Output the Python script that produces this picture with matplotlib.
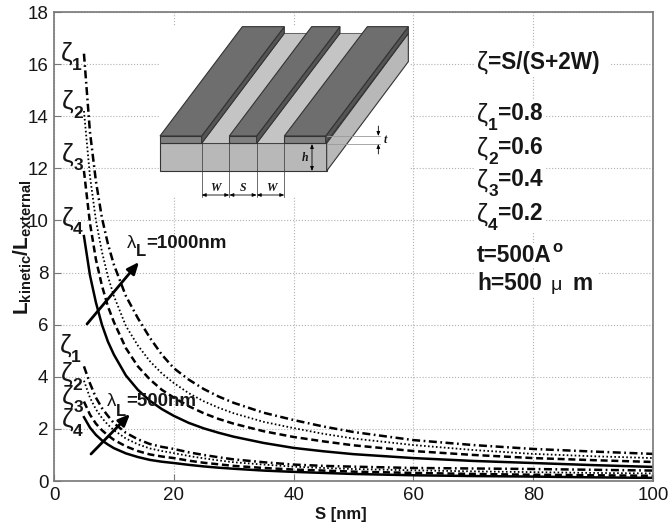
import matplotlib
matplotlib.use("Agg")
import matplotlib.pyplot as plt
from matplotlib.patches import Polygon, Rectangle

plt.rcParams['font.family'] = ['Liberation Sans', 'DejaVu Sans']
plt.rcParams['mathtext.fontset'] = 'custom'
plt.rcParams['mathtext.rm'] = 'Liberation Sans'
plt.rcParams['mathtext.bf'] = 'Liberation Sans:bold'
plt.rcParams['mathtext.it'] = 'Liberation Sans:italic'

# values
S = [5, 6, 7, 8, 9, 10, 12, 14, 16, 18, 20, 22.5, 25, 27.5, 30, 35, 40, 45, 50, 60, 70, 80, 90, 100]

big_z1 = [16.4, 13.4, 11.5, 10.1, 9.1, 8.3, 7.1, 6.25, 5.5, 4.85, 4.33, 3.89, 3.53, 3.24, 3.0, 2.62, 2.34, 2.09, 1.88, 1.57, 1.38, 1.23, 1.13, 1.04]
big_z2 = [14.2, 11.7, 10.0, 8.8, 7.85, 7.1, 5.95, 5.2, 4.6, 4.13, 3.76, 3.37, 3.06, 2.81, 2.6, 2.27, 2.03, 1.81, 1.63, 1.38, 1.19, 1.04, 0.95, 0.88]
big_z3 = [11.9, 9.9, 8.5, 7.5, 6.7, 6.1, 5.1, 4.4, 3.9, 3.5, 3.2, 2.87, 2.6, 2.38, 2.2, 1.91, 1.69, 1.52, 1.37, 1.15, 1.0, 0.88, 0.8, 0.73]
big_z4 = [9.4, 7.9, 6.85, 6.0, 5.35, 4.85, 4.05, 3.5, 3.08, 2.76, 2.5, 2.23, 2.02, 1.85, 1.7, 1.46, 1.27, 1.14, 1.03, 0.88, 0.77, 0.69, 0.61, 0.54]

small_z1 = [4.4, 3.75, 3.2, 2.8, 2.5, 2.22, 1.85, 1.6, 1.42, 1.31, 1.23, 1.1, 1.0, 0.91, 0.83, 0.72, 0.63, 0.58, 0.55, 0.5, 0.48, 0.46, 0.43, 0.4]
small_z2 = [3.85, 3.2, 2.75, 2.42, 2.16, 1.95, 1.63, 1.41, 1.25, 1.15, 1.07, 0.96, 0.87, 0.79, 0.72, 0.63, 0.55, 0.5, 0.46, 0.41, 0.37, 0.34, 0.31, 0.29]
small_z3 = [3.05, 2.55, 2.2, 1.95, 1.75, 1.58, 1.33, 1.15, 1.02, 0.94, 0.88, 0.78, 0.7, 0.64, 0.58, 0.5, 0.44, 0.4, 0.36, 0.31, 0.27, 0.24, 0.22, 0.2]
small_z4 = [2.45, 2.05, 1.77, 1.56, 1.4, 1.26, 1.06, 0.92, 0.81, 0.74, 0.69, 0.62, 0.56, 0.51, 0.47, 0.4, 0.35, 0.31, 0.27, 0.22, 0.19, 0.17, 0.14, 0.12]

xticks = [0, 20, 40, 60, 80, 100]
yticks = [0, 2, 4, 6, 8, 10, 12, 14, 16, 18]

styles = [((0, (3.2, 1.4, 0.7, 1.4)), 1.8), ((0, (0.9, 1.3)), 1.3), ((0, (2.8, 1.5)), 1.8), ('-', 1.8)]

ink = '#161616'

fig = plt.figure(figsize=(6.68, 5.29), dpi=100)
W, H = 668, 529
ax = fig.add_axes([54 / W, 1 - 481 / H, 599 / W, 469 / H])

for ys, (ls, lw) in zip([big_z1, big_z2, big_z3, big_z4], styles):
    ax.plot(S, ys, color='black', linestyle=ls, linewidth=lw)
for ys, (ls, lw) in zip([small_z1, small_z2, small_z3, small_z4], styles):
    ax.plot(S, ys, color='black', linestyle=ls, linewidth=lw)

ax.set_xlim(0, 100)
ax.set_ylim(0, 18)
ax.set_xticks(xticks)
ax.set_yticks(yticks)
ax.tick_params(direction='in', length=5, color='#777777', labelsize=13.5, labelcolor=ink, pad=4)
ax.grid(True, linestyle=':', color='#b0b0b0', linewidth=0.8)
for sp in ax.spines.values():
    sp.set_color('#777777')
    sp.set_linewidth(1.2)

fig.text(341 / W, 1 - 515 / H, 'S [nm]', fontsize=12, fontweight='bold', ha='center', va='center', color=ink)
fig.text(23 / W, 1 - 247 / H, r'$\mathbf{L_{kinetic}/L_{external}}$', rotation=90, fontsize=15,
         ha='center', va='center', color=ink)

# overlay in picture pixels for the notes and the sketch
ov = fig.add_axes([0, 0, 1, 1])
ov.set_xlim(0, W)
ov.set_ylim(H, 0)
ov.axis('off')
ov.patch.set_alpha(0)


def txt(x, y, s, size=16.3, **kw):
    ov.text(x, y, s, fontsize=size, ha='left', va='center', color=ink, **kw)


def zeta(x, y, n, size=19):
    ov.text(x, y, 'ζ', fontsize=size, ha='center', va='center', color=ink)
    ov.text(x + 10, y + 11, str(n), fontsize=12.5, fontweight='bold', ha='center', va='center', color=ink)


for x, y, n in [(67, 54, 1), (68, 102, 2), (68, 155, 3), (68, 219, 4),
                (66, 346, 1), (67, 374, 2), (68, 397, 3), (68, 420, 4)]:
    zeta(x, y, n)

ov.add_patch(Rectangle((474, 48), 136, 28, facecolor='white', edgecolor='none'))
ov.text(477, 63, 'ζ', fontsize=18, ha='left', va='center', color=ink)
txt(488, 63, '=S/(S+2W)', fontweight='bold')
for y, n, v in [(113, 1, '0.8'), (147, 2, '0.6'), (179, 3, '0.4'), (213, 4, '0.2')]:
    ov.add_patch(Rectangle((474, y - 14), 72, 34, facecolor='white', edgecolor='none'))
    ov.text(477, y + 2, 'ζ', fontsize=18, ha='left', va='center', color=ink)
    ov.text(493, y + 13, str(n), fontsize=12.5, fontweight='bold', ha='center', va='center', color=ink)
    txt(498, y, '=' + v, fontweight='bold')
ov.add_patch(Rectangle((474, 243), 90, 24, facecolor='white', edgecolor='none'))
txt(477, 255, 't=500A', fontweight='bold')
ov.text(552, 247, 'o', fontsize=12, fontweight='bold', ha='left', va='center', color=ink)
ov.add_patch(Rectangle((474, 272), 125, 24, facecolor='white', edgecolor='none'))
txt(477, 283, 'h=500', fontweight='bold')
ov.text(551, 285, 'μ', fontsize=14, ha='left', va='center', color=ink)
txt(573, 283, 'm', fontweight='bold')

for x, y, s in [(132, 243, '=1000nm'), (112, 402, '=500nm')]:
    ov.text(x, y, 'λ', fontsize=13.5, ha='center', va='center', color=ink)
    ov.text(x + 9, y + 9, 'L', fontsize=12, fontweight='bold', ha='center', va='center', color=ink)
    txt(x + 14, y, s, size=13.5, fontweight='bold')

for p0, p1 in [((87, 324), (139, 262)), ((91, 454), (130, 414))]:
    ov.annotate('', xy=p1, xytext=p0,
                arrowprops=dict(arrowstyle='-|>,head_length=0.7,head_width=0.3', color='black', lw=2,
                                shrinkA=0, shrinkB=0))

# sketch of the coplanar strips, coordinates in px of the 3x crop
ov.add_patch(Rectangle((160, 27), 250, 170, facecolor='white', edgecolor='none'))


def pt(x, y):
    return (130 + x / 3, y / 3)


def poly(points, fc, ec='#333333', lw=0.8):
    ov.add_patch(Polygon([pt(*p) for p in points], closed=True, facecolor=fc, edgecolor=ec, linewidth=lw))


dark = '#6e6e6e'
mid = '#808080'
side = '#555555'
light = '#c4c4c4'
face = '#b8b8b8'

poly([(90, 430), (590, 430), (590, 513), (90, 513)], face)
poly([(590, 430), (835, 100), (835, 185), (590, 513)], face)
poly([(215, 430), (463, 100), (545, 100), (298, 430)], light, lw=0.5)
poly([(380, 430), (630, 100), (712, 100), (463, 430)], light, lw=0.5)
for x0, x1, bx0, bx1 in [(90, 215, 337, 463), (298, 380, 545, 630), (463, 587, 712, 835)]:
    poly([(x0, 408), (x1, 408), (x1, 430), (x0, 430)], mid)
    poly([(x1, 408), (bx1, 80), (bx1, 100), (x1, 430)], side)
    poly([(x0, 408), (x1, 408), (bx1, 80), (bx0, 80)], dark)

# dimension marks of the sketch
for xv in [215, 298, 380, 463]:
    ov.plot(*zip(pt(xv, 430), pt(xv, 590)), color='#333333', lw=0.5)
for a, b in [(215, 298), (298, 380), (380, 463)]:
    ov.annotate('', xy=pt(b, 585), xytext=pt(a, 585),
                arrowprops=dict(arrowstyle='<|-|>,head_length=0.25,head_width=0.1', color='black', lw=0.6,
                                shrinkA=0, shrinkB=0))
for x, s in [(257, 'W'), (339, 'S'), (425, 'W')]:
    ov.text(*pt(x, 563), s, fontsize=8.5, fontstyle='italic', fontweight='bold', family='Liberation Serif',
            ha='center', va='center', color=ink)
ov.plot(*zip(pt(590, 408), pt(750, 408)), color='#999999', lw=0.6)
ov.plot(*zip(pt(590, 432), pt(750, 432)), color='#999999', lw=0.6)
ov.annotate('', xy=pt(546, 513), xytext=pt(546, 432),
            arrowprops=dict(arrowstyle='<|-|>,head_length=0.25,head_width=0.1', color='black', lw=0.6,
                            shrinkA=0, shrinkB=0))
ov.annotate('', xy=pt(745, 408), xytext=pt(745, 378),
            arrowprops=dict(arrowstyle='-|>,head_length=0.25,head_width=0.1', color='black', lw=0.6,
                            shrinkA=0, shrinkB=0))
ov.annotate('', xy=pt(745, 432), xytext=pt(745, 462),
            arrowprops=dict(arrowstyle='-|>,head_length=0.25,head_width=0.1', color='black', lw=0.6,
                            shrinkA=0, shrinkB=0))
ov.text(*pt(525, 475), 'h', fontsize=8.5, fontstyle='italic', fontweight='bold', family='Liberation Serif',
        ha='center', va='center', color=ink)
ov.text(*pt(765, 420), 't', fontsize=8.5, fontstyle='italic', fontweight='bold', family='Liberation Serif',
        ha='center', va='center', color=ink)

fig.savefig('out.png', dpi=100)
